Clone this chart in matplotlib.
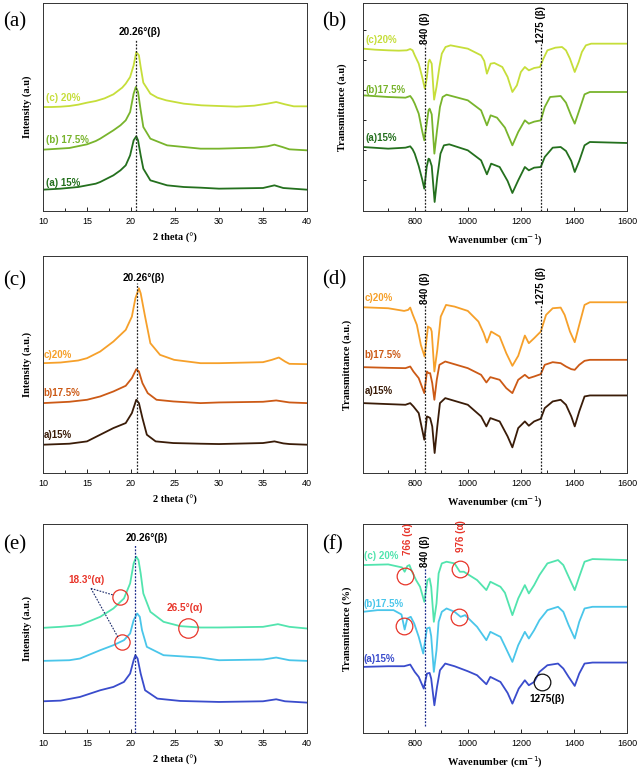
import matplotlib
matplotlib.use("Agg")
import matplotlib.pyplot as plt
from matplotlib.ticker import MultipleLocator

# ---------------- DATA ----------------
# Panel (a): XRD, green series (heights in a.u.)
a_x15 = [10, 12, 14, 15, 16, 16.5, 18.0, 18.8, 19.4, 19.9, 20.3, 20.6, 20.8, 21.1, 21.4, 22.2, 24.1, 26.0, 27.9, 30, 35, 36.3, 37.3, 40]
a_y15 = [64, 67, 72, 77, 82, 87, 107, 122, 137, 167, 212, 224, 212, 167, 127, 92, 77, 72, 70, 67, 69, 77, 69, 64]
a_x175 = [10, 13, 15, 16, 16.5, 18.0, 18.8, 19.4, 19.9, 20.3, 20.55, 20.8, 21.1, 21.4, 22.2, 24.1, 26.0, 27.9, 30, 34, 35.5, 36.3, 37.2, 38, 40]
a_y175 = [184, 189, 200, 210, 217, 242, 257, 272, 297, 352, 372, 357, 302, 252, 217, 197, 192, 187, 187, 190, 194, 199, 192, 185, 182]
a_x20 = [10, 11, 12, 13, 14, 15, 16, 17, 18, 19, 19.4, 19.9, 20.3, 20.6, 20.9, 21.1, 21.4, 22.2, 23, 24, 26, 28, 30, 32, 34, 35.5, 36.5, 37.5, 38.5, 40]
a_y20 = [312, 312, 313, 315, 319, 325, 330, 338, 350, 370, 382, 402, 437, 477, 467, 432, 385, 352, 340, 332, 322, 317, 315, 313, 316, 322, 327, 320, 314, 314]

# Panel (c): XRD, orange series
c_x15 = [10, 13, 15, 16.5, 18.0, 19.4, 20.1, 20.6, 20.9, 21.3, 21.8, 22.8, 24.8, 27.9, 30, 35, 36.3, 37.3, 38, 40]
c_y15 = [85, 88, 95, 115, 135, 150, 180, 220, 210, 165, 115, 95, 90, 88, 87, 90, 95, 89, 87, 85]
c_x175 = [10, 13, 15, 16.5, 18.0, 19.4, 20.1, 20.6, 20.9, 21.3, 21.9, 22.9, 24.8, 27.9, 30, 35, 36.5, 37.5, 38, 40]
c_y175 = [210, 214, 220, 230, 245, 262, 285, 312, 305, 270, 240, 220, 215, 210, 212, 214, 218, 214, 212, 210]
c_x20 = [10, 12, 14, 15, 16.5, 17, 18.0, 19.0, 19.4, 20.1, 20.5, 20.9, 21.1, 21.6, 22.2, 23.3, 24.9, 27.9, 30, 35, 36, 36.8, 37.5, 38, 40]
c_y20 = [330, 332, 338, 345, 365, 375, 395, 420, 430, 470, 525, 555, 540, 470, 390, 355, 340, 330, 330, 333, 340, 347, 335, 328, 327]

# Panel (e): XRD, blue series
e_x15 = [10, 12, 14.2, 16.5, 18.0, 19.2, 19.9, 20.3, 20.5, 20.75, 21.1, 21.6, 23.0, 25.6, 30, 35, 36.5, 37.5, 40]
e_y15 = [95, 97, 108, 128, 138, 153, 178, 218, 233, 223, 178, 128, 103, 96, 93, 95, 101, 95, 91]
e_x175 = [10, 13, 14.2, 16.5, 18.0, 19.2, 19.9, 20.3, 20.7, 21.0, 21.25, 21.8, 23.7, 27.9, 30, 35, 36.5, 38, 40]
e_y175 = [216, 218, 223, 248, 263, 278, 298, 338, 358, 348, 308, 258, 233, 226, 218, 220, 226, 218, 216]
e_x20 = [10, 12, 14.2, 16.5, 18.0, 19.2, 19.9, 20.3, 20.6, 20.85, 21.1, 21.4, 22.2, 23.7, 25.6, 27.9, 30, 35, 36.7, 38, 40]
e_y20 = [315, 318, 323, 348, 373, 403, 448, 508, 528, 518, 478, 418, 363, 333, 320, 316, 316, 318, 326, 318, 313]

# Panel (b): FTIR, green series
b_w15 = [605, 700, 765, 783, 792, 800, 815, 828, 836, 845, 852, 856, 864, 875, 885, 897, 910, 930, 1000, 1050, 1072, 1088, 1120, 1150, 1168, 1190, 1215, 1230, 1250, 1275, 1290, 1320, 1350, 1370, 1390, 1403, 1420, 1440, 1460, 1600]
b_t15 = [192, 187, 190, 194, 185, 172, 135, 95, 67, 132, 157, 155, 135, 27, 102, 172, 197, 200, 182, 152, 110, 142, 132, 90, 54, 92, 132, 122, 130, 132, 162, 190, 192, 180, 150, 117, 150, 197, 207, 204]
b_w175 = [605, 700, 765, 783, 792, 800, 815, 828, 836, 845, 852, 856, 864, 874, 884, 895, 905, 920, 1000, 1050, 1072, 1086, 1110, 1140, 1168, 1190, 1215, 1230, 1250, 1275, 1290, 1310, 1350, 1370, 1390, 1403, 1420, 1440, 1460, 1600]
b_t175 = [347, 342, 340, 345, 335, 322, 292, 240, 212, 262, 302, 307, 290, 172, 242, 312, 342, 349, 332, 302, 257, 287, 280, 250, 197, 237, 272, 262, 268, 272, 312, 342, 345, 325, 285, 262, 302, 350, 357, 357]
b_w20 = [605, 650, 700, 740, 770, 783, 792, 800, 815, 828, 838, 846, 852, 856, 864, 873, 882, 893, 902, 916, 935, 1000, 1050, 1062, 1072, 1086, 1100, 1130, 1150, 1168, 1185, 1200, 1215, 1230, 1250, 1272, 1285, 1300, 1330, 1355, 1370, 1385, 1403, 1418, 1430, 1445, 1465, 1600]
b_t20 = [487, 484, 482, 481, 482, 486, 482, 467, 442, 402, 367, 402, 447, 454, 442, 334, 372, 432, 472, 492, 497, 487, 467, 450, 412, 442, 444, 432, 402, 357, 377, 417, 432, 422, 429, 432, 457, 482, 490, 492, 482, 457, 417, 447, 477, 497, 502, 502]

# Panel (d): FTIR, orange series
d_w15 = [605, 700, 765, 783, 795, 815, 836, 846, 852, 858, 866, 875, 885, 895, 915, 1000, 1050, 1070, 1085, 1120, 1150, 1168, 1190, 1215, 1230, 1250, 1275, 1290, 1320, 1350, 1370, 1390, 1403, 1420, 1440, 1460, 1600]
d_t15 = [210, 207, 205, 210, 200, 180, 100, 170, 168, 165, 140, 60, 140, 210, 225, 205, 170, 140, 165, 155, 110, 77, 135, 155, 142, 155, 163, 195, 215, 220, 205, 170, 140, 185, 230, 233, 233]
d_w175 = [605, 700, 765, 783, 795, 815, 836, 846, 852, 858, 866, 874, 883, 893, 915, 1000, 1050, 1070, 1085, 1120, 1145, 1168, 1190, 1215, 1230, 1250, 1275, 1290, 1320, 1350, 1370, 1390, 1403, 1420, 1440, 1460, 1600]
d_t175 = [318, 316, 315, 320, 305, 285, 240, 305, 300, 300, 270, 220, 280, 325, 335, 315, 295, 272, 288, 280, 255, 240, 280, 295, 285, 290, 297, 325, 333, 330, 320, 312, 310, 325, 337, 340, 340]
d_w20 = [605, 700, 760, 775, 783, 792, 808, 823, 837, 850, 860, 864, 874, 885, 898, 918, 950, 1000, 1040, 1060, 1072, 1088, 1120, 1145, 1168, 1190, 1215, 1230, 1250, 1275, 1295, 1320, 1350, 1365, 1385, 1403, 1420, 1440, 1460, 1600]
d_t20 = [498, 495, 487, 490, 497, 477, 445, 385, 350, 440, 435, 425, 305, 370, 470, 505, 500, 487, 455, 420, 392, 425, 410, 360, 322, 352, 413, 390, 405, 425, 475, 495, 497, 475, 425, 393, 445, 505, 513, 513]

# Panel (f): FTIR, blue series
f_w15 = [605, 700, 760, 783, 800, 815, 834, 846, 856, 862, 874, 884, 895, 915, 950, 1000, 1035, 1070, 1085, 1123, 1150, 1168, 1192, 1215, 1230, 1250, 1270, 1300, 1340, 1360, 1380, 1403, 1420, 1440, 1470, 1600]
f_t15 = [198, 200, 200, 205, 183, 168, 133, 178, 180, 163, 83, 138, 188, 208, 200, 185, 173, 146, 168, 153, 120, 88, 133, 158, 143, 153, 183, 203, 208, 193, 168, 141, 178, 208, 211, 211]
f_w175 = [605, 660, 720, 750, 762, 772, 785, 798, 815, 832, 846, 856, 862, 872, 882, 890, 902, 920, 950, 973, 990, 1035, 1070, 1085, 1123, 1140, 1168, 1190, 1215, 1230, 1250, 1270, 1300, 1340, 1360, 1380, 1403, 1420, 1440, 1470, 1600]
f_t175 = [363, 368, 368, 355, 310, 343, 348, 328, 288, 238, 313, 316, 290, 183, 248, 333, 363, 373, 363, 348, 353, 318, 278, 303, 288, 260, 213, 263, 303, 283, 308, 338, 368, 378, 363, 323, 283, 333, 373, 378, 378]
f_w20 = [605, 700, 740, 752, 762, 772, 780, 790, 805, 820, 836, 848, 856, 862, 872, 882, 890, 902, 920, 950, 970, 985, 1035, 1070, 1085, 1123, 1140, 1168, 1190, 1215, 1230, 1250, 1270, 1300, 1340, 1360, 1380, 1403, 1420, 1440, 1470, 1600]
f_t20 = [503, 505, 498, 496, 483, 500, 503, 483, 458, 438, 393, 458, 463, 438, 333, 388, 478, 508, 513, 508, 483, 483, 458, 428, 453, 438, 420, 353, 403, 443, 418, 443, 473, 508, 518, 503, 468, 428, 468, 513, 521, 518]

series_labels_abc = ["(a) 15%", "(b) 17.5%", "(c) 20%"]

# ---------------- STYLE ----------------
SANS = "Liberation Sans"
SERIF = "Liberation Serif"
green = ["#24701e", "#78b42c", "#c6de3a"]
orange = ["#3a1c08", "#cc5a16", "#f6a02a"]
blue = ["#3a4ccc", "#4ac6ea", "#52e4ae"]

fig = plt.figure(figsize=(6.4, 7.7), dpi=100)
W, H = 640, 770


def make_ax(x0, y0, x1, y1):
    return fig.add_axes([x0 / W, 1 - y1 / H, (x1 - x0) / W, (y1 - y0) / H])


def style(ax, kind, ylabel, ymax):
    if kind == "xrd":
        ax.set_xlim(10, 40)
        ax.xaxis.set_major_locator(MultipleLocator(5))
        ax.xaxis.set_minor_locator(MultipleLocator(2.5))
        ax.set_xlabel("2 theta (°)", fontfamily=SERIF, fontweight="bold", fontsize=7.5, labelpad=5)
    else:
        ax.set_xlim(605, 1600)
        ax.xaxis.set_major_locator(MultipleLocator(200))
        ax.xaxis.set_minor_locator(MultipleLocator(100))
        ax.set_xlabel("Wavenumber (cm$^{-1}$)", fontfamily=SERIF, fontweight="bold", fontsize=7.5, labelpad=5)
    ax.set_ylim(0, ymax)
    ax.set_yticks([])
    ax.set_ylabel(ylabel, fontfamily=SERIF, fontweight="bold", fontsize=7.5, labelpad=8)
    ax.tick_params(axis="x", which="both", direction="in", labelsize=6.5, length=3, width=0.6, pad=4)
    ax.tick_params(axis="x", which="minor", length=2)
    for lab in ax.get_xticklabels():
        lab.set_fontfamily(SANS)
    for s in ax.spines.values():
        s.set_linewidth(0.7)
        s.set_color("#333333")


lw = 1.3

# ---- (a) ----
ax = make_ax(43, 3, 307, 211)
for x, y, c in zip([a_x15, a_x175, a_x20], [a_y15, a_y175, a_y20], green):
    ax.plot(x, y, color=c, lw=lw)
ax.plot([20.6, 20.6], [0, 514], ls=(0, (1.5, 1.2)), color="#222222", lw=0.9)
ax.text(20.98, 537, "20.26°(β)", ha="center", va="center", fontfamily=SANS, fontweight="bold", fontsize=7.2)
for lab, yy, c in zip(series_labels_abc, [84, 212, 340], green):
    ax.text(10.3, yy, lab, ha="left", va="center", fontfamily=SANS, fontweight="bold", fontsize=7, color=c)
style(ax, "xrd", "Intensity (a.u)", 624)

# ---- (b) ----
ax = make_ax(363, 3, 627, 211)
for x, y, c in zip([b_w15, b_w175, b_w20], [b_t15, b_t175, b_t20], green):
    ax.plot(x, y, color=c, lw=lw)
ax.plot([838, 838], [0, 497], ls=(0, (1.5, 1.2)), color="#222222", lw=0.9)
ax.plot([1275, 1275], [0, 502], ls=(0, (1.5, 1.2)), color="#222222", lw=0.9)
ax.text(838, 500, "840 (β)", rotation=90, ha="center", va="bottom", fontfamily=SANS, fontweight="bold", fontsize=7)
ax.text(1275, 505, "1275 (β)", rotation=90, ha="center", va="bottom", fontfamily=SANS, fontweight="bold", fontsize=7)
for lab, yy, c in zip(["(a)15%", "(b)17.5%", "(c)20%"], [220, 364, 514], green):
    ax.text(615, yy, lab, ha="left", va="center", fontfamily=SANS, fontweight="bold", fontsize=7, color=c)
style(ax, "ftir", "Transmittance (a.u)", 624)
ax.set_yticks([92, 182, 272, 362, 452, 542])
ax.set_yticklabels([])
ax.tick_params(axis="y", direction="in", length=2.5, width=0.6)

# ---- (c) ----
ax = make_ax(43, 256, 307, 473)
for x, y, c in zip([c_x15, c_x175, c_x20], [c_y15, c_y175, c_y20], orange):
    ax.plot(x, y, color=c, lw=lw)
ax.plot([20.68, 20.68], [0, 570], ls=(0, (1.5, 1.2)), color="#222222", lw=0.9)
ax.text(21.5, 587, "20.26°(β)", ha="center", va="center", fontfamily=SANS, fontweight="bold", fontsize=7.2)
for lab, yy, c in zip(["a)15%", "b)17.5%", "c)20%"], [115, 240, 355], orange):
    ax.text(10.1, yy, lab, ha="left", va="center", fontfamily=SANS, fontweight="bold", fontsize=7, color=c)
style(ax, "xrd", "Intensity (a.u.)", 652)

# ---- (d) ----
ax = make_ax(363, 256, 627, 473)
for x, y, c in zip([d_w15, d_w175, d_w20], [d_t15, d_t175, d_t20], orange):
    ax.plot(x, y, color=c, lw=lw)
ax.plot([838, 838], [0, 505], ls=(0, (1.5, 1.2)), color="#222222", lw=0.9)
ax.plot([1275, 1275], [0, 505], ls=(0, (1.5, 1.2)), color="#222222", lw=0.9)
ax.text(838, 508, "840 (β)", rotation=90, ha="center", va="bottom", fontfamily=SANS, fontweight="bold", fontsize=7)
ax.text(1275, 508, "1275 (β)", rotation=90, ha="center", va="bottom", fontfamily=SANS, fontweight="bold", fontsize=7)
for lab, yy, c in zip(["a)15%", "b)17.5%", "c)20%"], [245, 355, 527], orange):
    ax.text(610, yy, lab, ha="left", va="center", fontfamily=SANS, fontweight="bold", fontsize=7, color=c)
style(ax, "ftir", "Transmittance (a.u.)", 652)

# ---- (e) ----
ax = make_ax(43, 524, 307, 733)
for x, y, c in zip([e_x15, e_x175, e_x20], [e_y15, e_y175, e_y20], blue):
    ax.plot(x, y, color=c, lw=lw)
ax.plot([20.42, 20.42], [0, 563], ls=(0, (1.5, 1.2)), color="#1a2a8a", lw=0.9)
ax.text(21.74, 583, "20.26°(β)", ha="center", va="center", fontfamily=SANS, fontweight="bold", fontsize=7.2)
ax.plot([18.71, 18.98], [406, 273], "o", ms=11, mfc="none", mec="#e8352a", mew=0.9)
ax.plot([26.48], [315], "o", ms=14, mfc="none", mec="#e8352a", mew=0.9)
ax.plot([15.45, 18.03], [433, 413], ls=(0, (1.5, 1.2)), color="#1a2a6a", lw=0.8)
ax.plot([15.45, 18.6], [433, 283], ls=(0, (1.5, 1.2)), color="#1a2a6a", lw=0.8)
ax.text(12.9, 458, "18.3°(α)", ha="left", va="center", fontfamily=SANS, fontweight="bold", fontsize=7.2, color="#e8352a")
ax.text(24.1, 373, "26.5°(α)", ha="left", va="center", fontfamily=SANS, fontweight="bold", fontsize=7.2, color="#e8352a")
style(ax, "xrd", "Intensity (a.u.)", 626)

# ---- (f) ----
ax = make_ax(363, 524, 627, 733)
for x, y, c in zip([f_w15, f_w175, f_w20], [f_t15, f_t175, f_t20], blue):
    ax.plot(x, y, color=c, lw=lw)
ax.plot([838, 838], [20, 493], ls=(0, (1.5, 1.2)), color="#1a2a8a", lw=0.9)
ax.text(838, 496, "840 (β)", rotation=90, ha="center", va="bottom", fontfamily=SANS, fontweight="bold", fontsize=7)
ax.text(774, 533, "766 (α)", rotation=90, ha="center", va="bottom", fontfamily=SANS, fontweight="bold", fontsize=7, color="#e8352a")
ax.text(975, 543, "976 (α)", rotation=90, ha="center", va="bottom", fontfamily=SANS, fontweight="bold", fontsize=7, color="#e8352a")
ax.plot([762, 758, 972, 968], [471, 321, 491, 348], "o", ms=12, mfc="none", mec="#e8352a", mew=0.9)
ax.plot([1280], [153], "o", ms=12, mfc="none", mec="#111111", mew=0.9)
ax.text(1233, 103, "1275(β)", ha="left", va="center", fontfamily=SANS, fontweight="bold", fontsize=7.2)
for lab, yy, c in zip(["(a)15%", "(b)17.5%", "(c) 20%"], [223, 386, 531], blue):
    ax.text(607, yy, lab, ha="left", va="center", fontfamily=SANS, fontweight="bold", fontsize=7, color=c)
style(ax, "ftir", "Transmittance (%)", 626)

# panel letters
for lab, px, py in [("(a)", 3, 22), ("(b)", 322, 22), ("(c)", 3, 281), ("(d)", 322, 280), ("(e)", 3, 545), ("(f)", 322, 545)]:
    fig.text(px / W, 1 - py / H, lab, ha="left", va="center", fontfamily=SERIF, fontsize=15)

fig.savefig("out.png", dpi=100, facecolor="white")
